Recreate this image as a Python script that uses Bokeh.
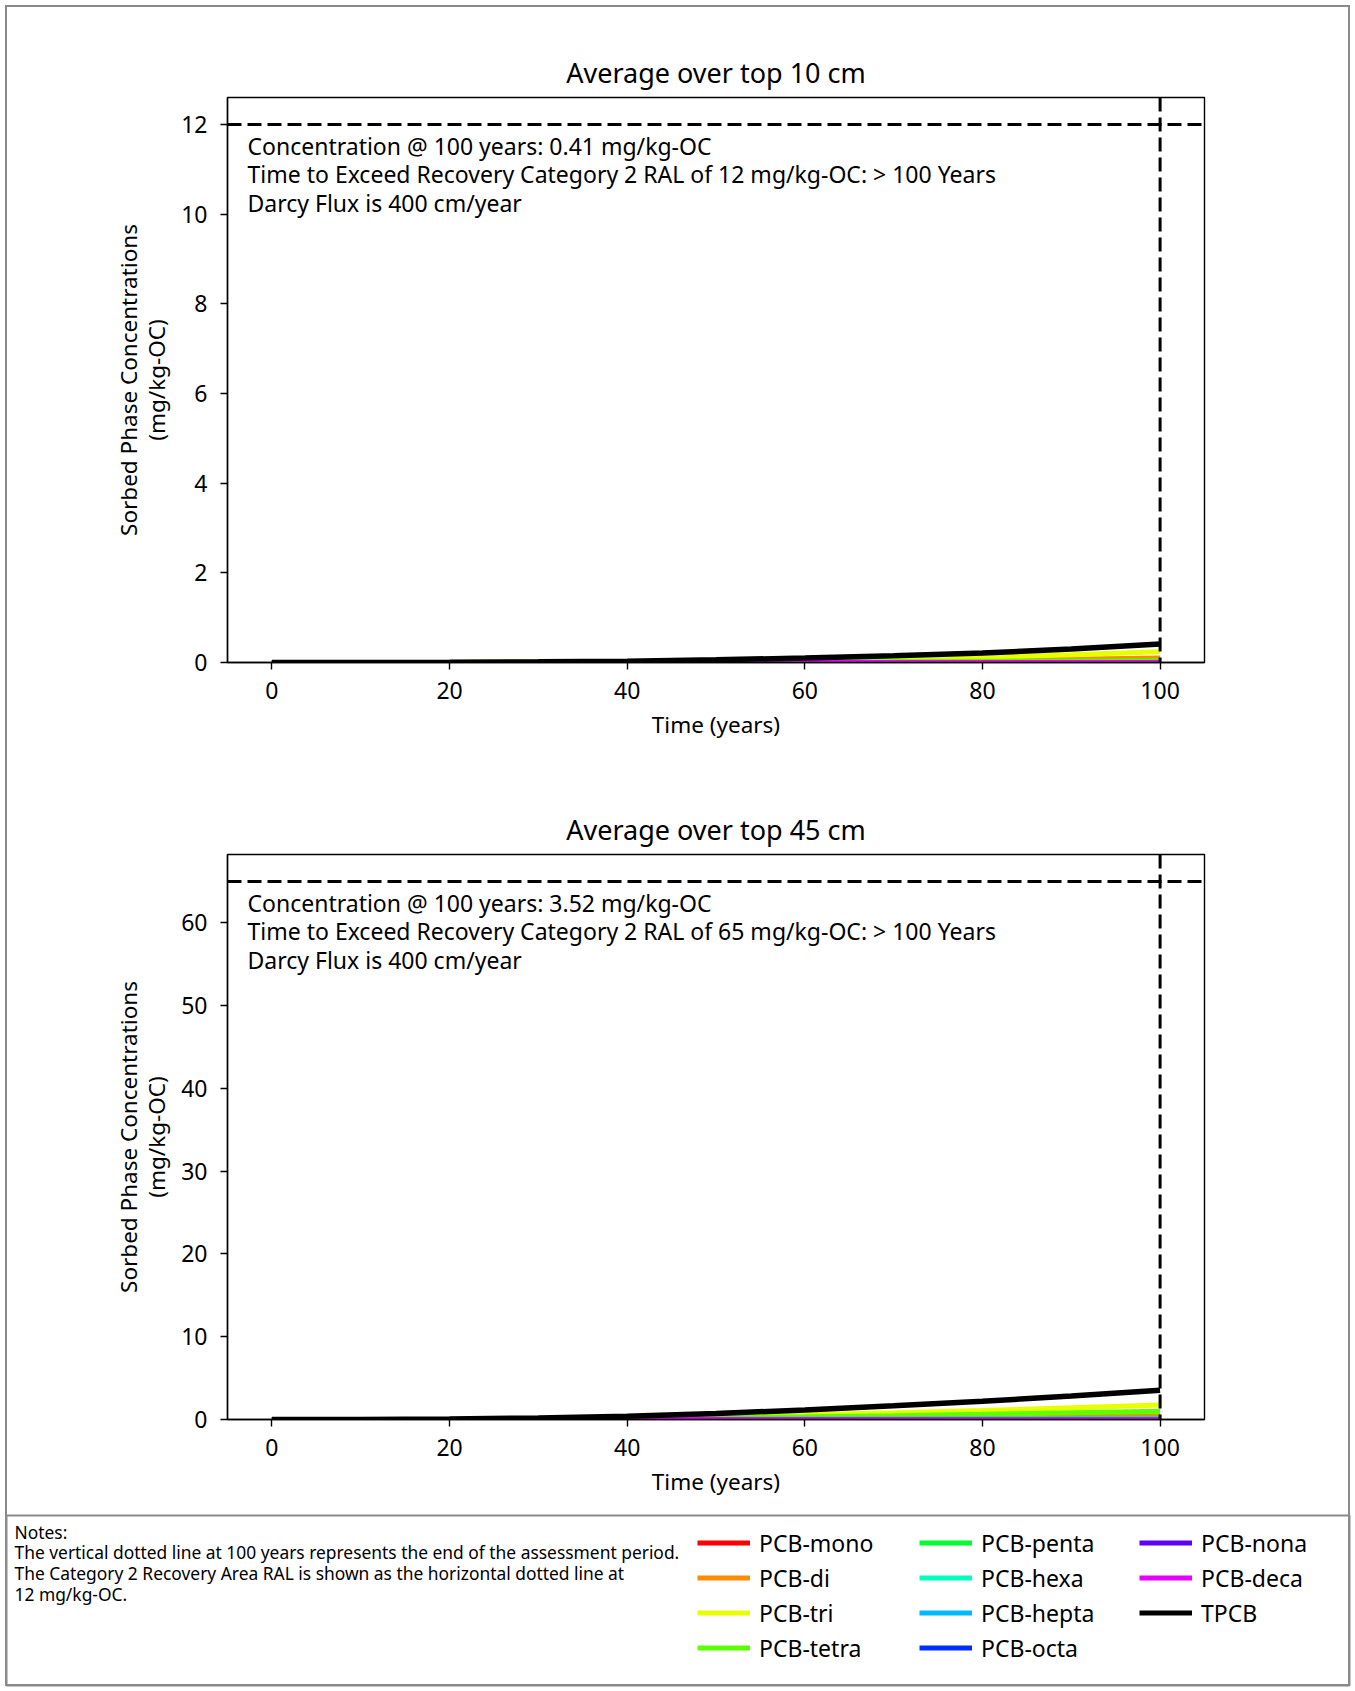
from bokeh.plotting import figure
from bokeh.models import Range1d, FixedTicker, Span, Label, Legend, LegendItem
from bokeh.layouts import column
from bokeh.embed import file_html
from bokeh.resources import INLINE

FONT = "Noto Sans"

# ---------------- data ----------------
years = [0, 10, 20, 30, 40, 50, 60, 70, 80, 90, 100]

# Average over top 10 cm (mg/kg-OC)
mono_10 = [0, 0.0002, 0.0005, 0.001, 0.002, 0.003, 0.005, 0.008, 0.011, 0.015, 0.02]
di_10 = [0, 0.0003, 0.0013, 0.004, 0.008, 0.015, 0.025, 0.037, 0.052, 0.074, 0.10]
tri_10 = [0, 0.0005, 0.0027, 0.0085, 0.017, 0.035, 0.058, 0.087, 0.122, 0.175, 0.24]
tetra_10 = [0, 0, 0.0004, 0.0012, 0.0025, 0.0055, 0.0095, 0.0145, 0.021, 0.030, 0.04]
penta_10 = [0, 0, 0.0001, 0.0003, 0.0005, 0.0012, 0.002, 0.003, 0.0035, 0.005, 0.008]
hexa_10 = [0, 0, 0, 0, 0.0001, 0.0002, 0.0003, 0.0005, 0.0008, 0.001, 0.002]
hepta_10 = [0, 0, 0, 0, 0, 0, 0.0001, 0.0001, 0.0002, 0.0003, 0.0005]
octa_10 = [0, 0, 0, 0, 0, 0, 0, 0.0001, 0.0001, 0.0001, 0.0002]
nona_10 = [0, 0, 0, 0, 0, 0, 0, 0, 0, 0.0001, 0.0001]
deca_10 = [0, 0, 0, 0, 0, 0, 0, 0, 0, 0, 0.0001]
tpcb_10 = [0, 0.001, 0.005, 0.015, 0.03, 0.06, 0.10, 0.15, 0.21, 0.30, 0.41]

# Average over top 45 cm (mg/kg-OC)
mono_45 = [0, 0.0005, 0.002, 0.005, 0.009, 0.015, 0.022, 0.03, 0.04, 0.05, 0.06]
di_45 = [0, 0.0025, 0.01, 0.026, 0.055, 0.095, 0.15, 0.215, 0.285, 0.365, 0.45]
tri_45 = [0, 0.005, 0.03, 0.09, 0.2, 0.36, 0.575, 0.82, 1.09, 1.415, 1.745]
tetra_45 = [0, 0.0015, 0.015, 0.048, 0.11, 0.2, 0.32, 0.465, 0.625, 0.81, 1.0]
penta_45 = [0, 0.0005, 0.002, 0.008, 0.018, 0.035, 0.056, 0.08, 0.11, 0.14, 0.18]
hexa_45 = [0, 0, 0.001, 0.002, 0.005, 0.01, 0.016, 0.023, 0.031, 0.04, 0.05]
hepta_45 = [0, 0, 0, 0.001, 0.002, 0.004, 0.006, 0.009, 0.012, 0.016, 0.02]
octa_45 = [0, 0, 0, 0, 0.001, 0.001, 0.002, 0.003, 0.003, 0.005, 0.006]
nona_45 = [0, 0, 0, 0, 0, 0, 0.001, 0.002, 0.003, 0.004, 0.005]
deca_45 = [0, 0, 0, 0, 0, 0, 0.001, 0.002, 0.002, 0.003, 0.004]
tpcb_45 = [0, 0.01, 0.06, 0.18, 0.40, 0.72, 1.15, 1.65, 2.2, 2.85, 3.52]

series_labels = ["PCB-mono", "PCB-di", "PCB-tri", "PCB-tetra", "PCB-penta", "PCB-hexa",
                 "PCB-hepta", "PCB-octa", "PCB-nona", "PCB-deca", "TPCB"]
series_colors = ["#ff0000", "#ff8b00", "#e8ff00", "#5dff00", "#00ff2e", "#00ffb9",
                 "#00b9ff", "#002eff", "#5d00ff", "#e800ff", "#000000"]

x_ticks = [0, 20, 40, 60, 80, 100]
y_ticks_10 = [0, 2, 4, 6, 8, 10, 12]
y_ticks_45 = [0, 10, 20, 30, 40, 50, 60]

assessment_end = 100
ral_10 = 12
ral_45 = 65

title_10 = "Average over top 10 cm"
title_45 = "Average over top 45 cm"
x_label = "Time (years)"
y_label = "Sorbed Phase Concentrations\n(mg/kg-OC)"

ann_10 = ["Concentration @ 100 years: 0.41 mg/kg-OC",
          "Time to Exceed Recovery Category 2 RAL of 12 mg/kg-OC: > 100 Years",
          "Darcy Flux is 400 cm/year"]
ann_45 = ["Concentration @ 100 years: 3.52 mg/kg-OC",
          "Time to Exceed Recovery Category 2 RAL of 65 mg/kg-OC: > 100 Years",
          "Darcy Flux is 400 cm/year"]

notes_lines = ["Notes:",
               "The vertical dotted line at 100 years represents the end of the assessment period.",
               "The Category 2 Recovery Area RAL is shown as the horizontal dotted line at",
               "12 mg/kg-OC."]

series_10 = [mono_10, di_10, tri_10, tetra_10, penta_10, hexa_10, hepta_10, octa_10, nona_10, deca_10, tpcb_10]
series_45 = [mono_45, di_45, tri_45, tetra_45, penta_45, hexa_45, hepta_45, octa_45, nona_45, deca_45, tpcb_45]

FRAME_H = 565


def make_panel(title, series, ral, y_ticks, ann, height, top, bottom):
    span_x = max(years) - min(years)
    p = figure(width=1355, height=height,
               x_range=Range1d(min(years) - 0.05 * span_x, max(years) + 0.05 * span_x),
               y_range=Range1d(0, ral * 1.05),
               output_backend="svg", toolbar_location=None,
               min_border_left=227, min_border_right=151,
               min_border_top=top, min_border_bottom=bottom,
               border_fill_color=None, background_fill_color="white")
    p.frame_align = False
    p.title.text = title
    p.title.text_font = FONT
    p.title.text_font_size = "27px"
    p.title.text_font_style = "normal"
    p.title.align = "center"
    p.title.text_color = "black"
    p.title.standoff = 14

    p.grid.visible = False
    p.outline_line_color = "black"
    p.outline_line_width = 1.4
    p.outline_line_alpha = 1.0

    p.xaxis.ticker = FixedTicker(ticks=x_ticks)
    p.yaxis.ticker = FixedTicker(ticks=y_ticks)
    for ax in (p.xaxis, p.yaxis):
        ax.axis_line_color = "black"
        ax.axis_line_width = 1.4
        ax.major_tick_line_color = "black"
        ax.major_tick_line_width = 1.4
        ax.major_tick_in = 0
        ax.major_tick_out = 7
        ax.minor_tick_line_color = None
        ax.major_label_text_font = FONT
        ax.major_label_text_font_size = "23px"
        ax.major_label_text_color = "black"
        ax.axis_label_text_font = FONT
        ax.axis_label_text_font_size = "22.5px"
        ax.axis_label_text_font_style = "normal"
        ax.axis_label_text_color = "black"
    p.xaxis.axis_label = x_label
    p.yaxis.axis_label = y_label
    p.xaxis.major_label_standoff = 12
    p.yaxis.major_label_standoff = 13
    p.xaxis.axis_label_standoff = 7
    p.yaxis.axis_label_standoff = 6
    p.yaxis.axis_label_text_line_height = 0.92

    for ys, color in zip(series, series_colors):
        lw = 5.5 if color == "#000000" else 5
        p.line(years, ys, line_color=color, line_width=lw)

    p.add_layout(Span(location=assessment_end, dimension="height", line_color="black",
                      line_width=3, line_dash="14 6"))
    p.add_layout(Span(location=ral, dimension="width", line_color="black",
                      line_width=3, line_dash="14 6"))

    for i, txt in enumerate(ann):
        p.add_layout(Label(x=20, y=FRAME_H - (48.2 + 28.5 * i), x_units="screen", y_units="screen",
                           text=txt, text_font=FONT, text_font_size="23px",
                           text_baseline="middle", text_align="left", text_color="black"))
    return p


p1 = make_panel(title_10, series_10, ral_10, y_ticks_10, ann_10, 760, 97, 98)
p2 = make_panel(title_45, series_45, ral_45, y_ticks_45, ann_45, 750, 94, 91)

# ---------------- notes + legend panel ----------------
# ranges placed away from the data so the legend's source lines stay out of view
p3 = figure(width=1355, height=181, x_range=Range1d(-20, -10), y_range=Range1d(-20, -10),
            output_backend="svg", toolbar_location=None,
            x_axis_location=None, y_axis_location=None,
            min_border_left=6, min_border_right=6, min_border_top=5, min_border_bottom=6,
            border_fill_color=None, background_fill_color=None)
p3.frame_align = False
p3.grid.visible = False
p3.outline_line_color = "#8a8a8a"
p3.outline_line_width = 2

for i, txt in enumerate(notes_lines):
    p3.add_layout(Label(x=8, y=154 - 20.8 * i, x_units="screen", y_units="screen",
                        text=txt, text_font=FONT, text_font_size="17.4px",
                        text_baseline="middle", text_align="left", text_color="black"))

legend_src = [p3.line(years, ys, line_color=c, line_width=5)
              for ys, c in zip(series_45, series_colors)]
items = [LegendItem(label=l, renderers=[r]) for l, r in zip(series_labels, legend_src)]
groups = [(items[0:4], 691, 19.8), (items[4:8], 913, 19.8), (items[8:11], 1133, 54.8)]
for its, lx, ly in groups:
    lg = Legend(items=its, location=(lx, ly), orientation="vertical",
                glyph_width=53, glyph_height=35, label_height=35, label_standoff=9,
                spacing=0, padding=0, margin=0,
                label_text_font=FONT, label_text_font_size="23px", label_text_color="black",
                border_line_color=None, background_fill_alpha=0)
    p3.add_layout(lg)

root = column(p1, p2, p3, spacing=0,
              styles={"outline": "2px solid #8a8a8a", "outline-offset": "-7px"})

with open("out.html", "w") as f:
    f.write(file_html(root, INLINE))
